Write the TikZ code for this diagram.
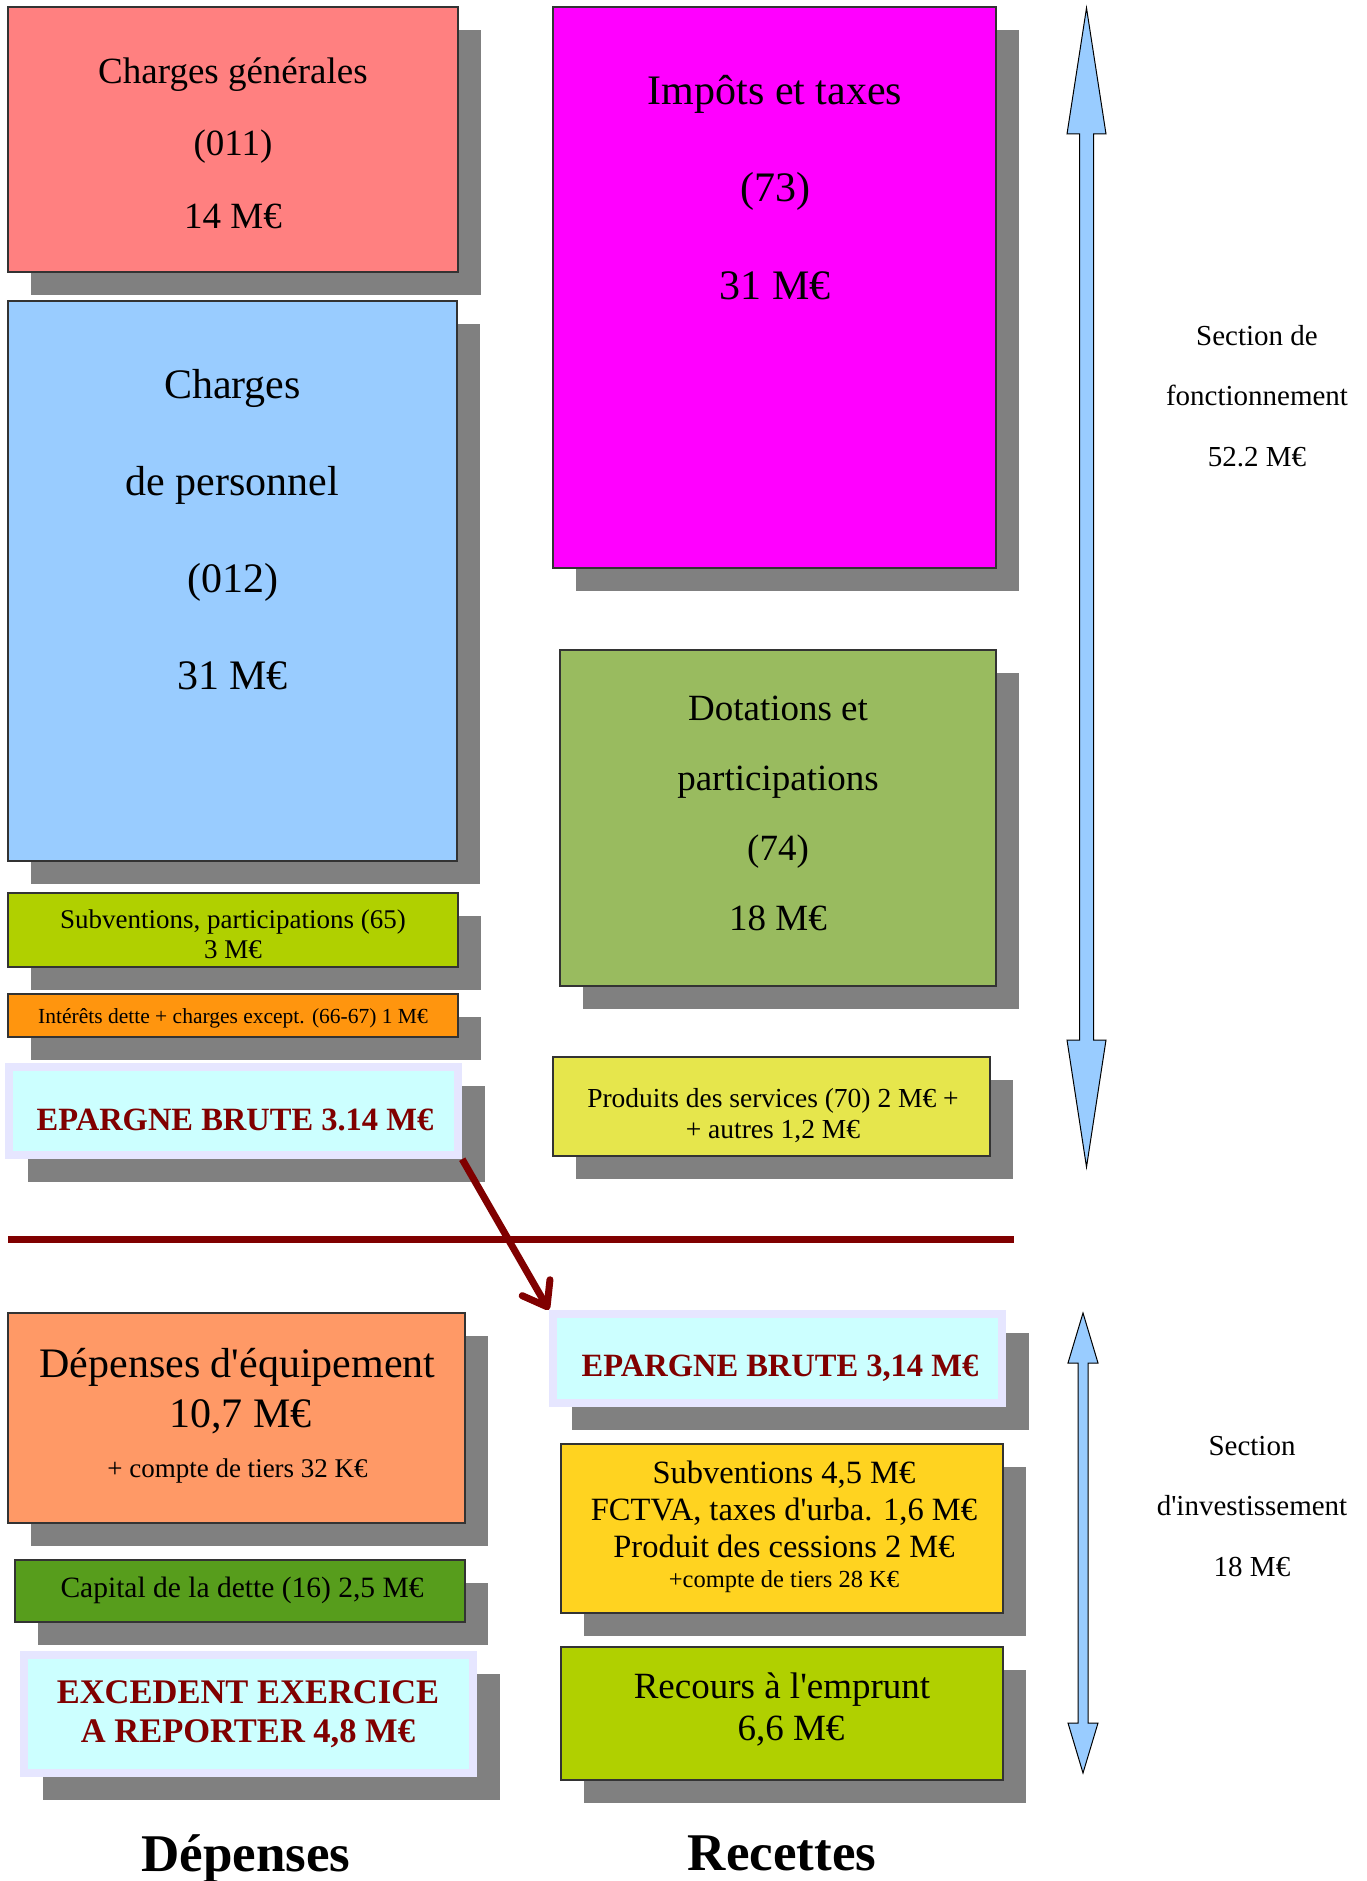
\documentclass[tikz,border=0pt]{standalone}
\usepackage{fontspec}
\setmainfont{Liberation Serif}[Ligatures=TeXOff]
\usetikzlibrary{arrows.meta,shadows}
\definecolor{cGen}{HTML}{FF8080}
\definecolor{cPers}{HTML}{99CCFF}
\definecolor{cSub}{HTML}{B0D000}
\definecolor{cInt}{HTML}{FF950E}
\definecolor{cEpIn}{HTML}{CCFFFF}
\definecolor{cEpOut}{HTML}{E6E6FF}
\definecolor{cImp}{HTML}{FF00FF}
\definecolor{cDot}{HTML}{99BB5F}
\definecolor{cProd}{HTML}{E6E64C}
\definecolor{cDep}{HTML}{FF9966}
\definecolor{cCap}{HTML}{579D1C}
\definecolor{cSubv}{HTML}{FFD320}
\definecolor{cShadow}{HTML}{808080}
\definecolor{cRed}{HTML}{800000}
\definecolor{cArrow}{HTML}{99CCFF}
\newcommand\fsz[2]{\fontsize{#1}{#2}\selectfont}
\begin{document}
\begin{tikzpicture}[x=1pt,y=-1pt,
  shadowed/.style={drop shadow={shadow xshift=23pt, shadow yshift=-23pt, fill=cShadow, opacity=1}},
  box/.style={rectangle, draw=black!80, line width=1.2pt, inner sep=0pt, shadowed},
  epbox/.style={rectangle, fill=cEpOut, inner sep=0pt, shadowed,
     path picture={\fill[cEpIn] ([shift={(8pt,-8pt)}]path picture bounding box.north west)
        rectangle ([shift={(-8pt,8pt)}]path picture bounding box.south east);}},
  txt/.style={anchor=base, align=center, inner sep=0pt},
  eptxt/.style={txt, text=cRed, font=\bfseries\fsz{32.5}{39}},
  sect/.style={txt, font=\fsz{29}{60.5}},
  bigarrow/.style={fill=cArrow, draw=black, line width=1pt, line join=miter},
  sepline/.style={draw=cRed, line width=7pt},
  link/.style={draw=cRed, line width=7pt, -{Straight Barb[round, length=22pt, width=32pt]}}
]
\useasboundingbox (0,0) rectangle (1367,1881);

% (text nodes are anchored at the baseline of their LAST line)

% ---------- Dépenses de fonctionnement ----------
\node[box, fill=cGen, minimum width=450pt, minimum height=265pt] (gen) at (233,139.5) {};
\node[txt, font=\fsz{37}{72.5}] (genT) at (233,228) {Charges générales\\(011)\\14 M€};

\node[box, fill=cPers, minimum width=449pt, minimum height=560pt] (pers) at (232.5,581) {};
\node[txt, font=\fsz{42}{97}] (persT) at (232.5,689) {Charges\\de personnel\\(012)\\31 M€};

\node[box, fill=cSub, minimum width=450pt, minimum height=74pt] (sub) at (233,930) {};
\node[txt, font=\fsz{27}{30}] (subT) at (233,958) {Subventions, participations (65)\\3 M€};

\node[box, fill=cInt, minimum width=450pt, minimum height=43pt] (int) at (233,1015.5) {};
\node[txt, font=\fsz{21.5}{26}] (intT) at (233,1023) {Intérêts dette + charges except. (66-67) 1 M€};

\node[epbox, minimum width=457pt, minimum height=96pt] (epL) at (233.5,1111) {};
\node[eptxt] (epLT) at (235,1130) {EPARGNE BRUTE 3.14 M€};

% ---------- Recettes de fonctionnement ----------
\node[box, fill=cImp, minimum width=443pt, minimum height=561pt] (imp) at (774.5,287.5) {};
\node[txt, font=\fsz{42}{97.5}] (impT) at (775,299) {Impôts et taxes\\(73)\\31 M€};

\node[box, fill=cDot, minimum width=436pt, minimum height=336pt] (dot) at (778,818) {};
\node[txt, font=\fsz{37}{70}] (dotT) at (778,930) {Dotations et\\participations\\(74)\\18 M€};

\node[box, fill=cProd, minimum width=437pt, minimum height=99pt] (prod) at (771.5,1106.5) {};
\node[txt, font=\fsz{27.5}{31}] (prodT) at (773,1138) {Produits des services (70) 2 M€ +\\+ autres 1,2 M€};

% ---------- Investissement : dépenses ----------
\node[box, fill=cDep, minimum width=457pt, minimum height=210pt] (dep) at (236.5,1418) {};
\node[txt, font=\fsz{42}{50}] (depT) at (237.5,1477) {Dépenses d'équipement\\\hspace*{6pt}10,7 M€\\{\fsz{27}{50}+ compte de tiers 32 K€}};

\node[box, fill=cCap, minimum width=450pt, minimum height=62pt] (cap) at (240,1591) {};
\node[txt, font=\fsz{29.5}{34}] (capT) at (242,1597) {Capital de la dette (16) 2,5 M€};

\node[epbox, minimum width=457pt, minimum height=126pt] (exc) at (248.5,1714) {};
\node[txt, text=cRed, font=\bfseries\fsz{34.5}{38.5}] (excT) at (248,1742) {EXCEDENT EXERCICE\\A REPORTER 4,8 M€};

% ---------- Investissement : recettes ----------
\node[epbox, minimum width=457pt, minimum height=97pt] (epR) at (777.5,1358.5) {};
\node[eptxt] (epRT) at (780,1376) {EPARGNE BRUTE 3,14 M€};

\node[box, fill=cSubv, minimum width=442pt, minimum height=169pt] (subv) at (782,1528.5) {};
\node[txt, font=\fsz{32.5}{37}] (subvT) at (784,1587) {Subventions 4,5 M€\\FCTVA, taxes d'urba. 1,6 M€\\Produit des cessions 2 M€\\[-7pt]{\fsz{24.5}{30}+compte de tiers 28 K€}};

\node[box, fill=cSub, minimum width=442pt, minimum height=133pt] (rec) at (782,1713.5) {};
\node[txt, font=\fsz{37}{42}] (recT) at (782,1740) {Recours à l'emprunt\\\hspace*{18pt}6,6 M€};

% ---------- Sections ----------
\filldraw[bigarrow] (1086.5,8) -- (1106,134) -- (1093.5,134) -- (1093.5,1040) -- (1106,1040)
  -- (1086.5,1167) -- (1067,1040) -- (1079.5,1040) -- (1079.5,134) -- (1067,134) -- cycle;
\node[sect] (fonct) at (1257,466) {Section de\\fonctionnement\\52.2 M€};

\filldraw[bigarrow] (1083,1313) -- (1098,1363) -- (1088,1363) -- (1088,1723) -- (1098,1723)
  -- (1083,1773) -- (1068,1723) -- (1078,1723) -- (1078,1363) -- (1068,1363) -- cycle;
\node[sect] (invest) at (1252,1576) {Section\\d'investissement\\18 M€};

% ---------- Séparation et report ----------
\coordinate (sepA) at (8,1239.5);
\coordinate (sepB) at (1014,1239.5);
\draw[sepline] (sepA) -- (sepB);
\draw[link] (epL.south east) -- (epR.north west);

% ---------- Titres ----------
\node[txt, font=\bfseries\fsz{53}{60}] (tDep) at (246,1871) {Dépenses};
\node[txt, font=\bfseries\fsz{53}{60}] (tRec) at (782,1870) {Recettes};
\end{tikzpicture}
\end{document}
